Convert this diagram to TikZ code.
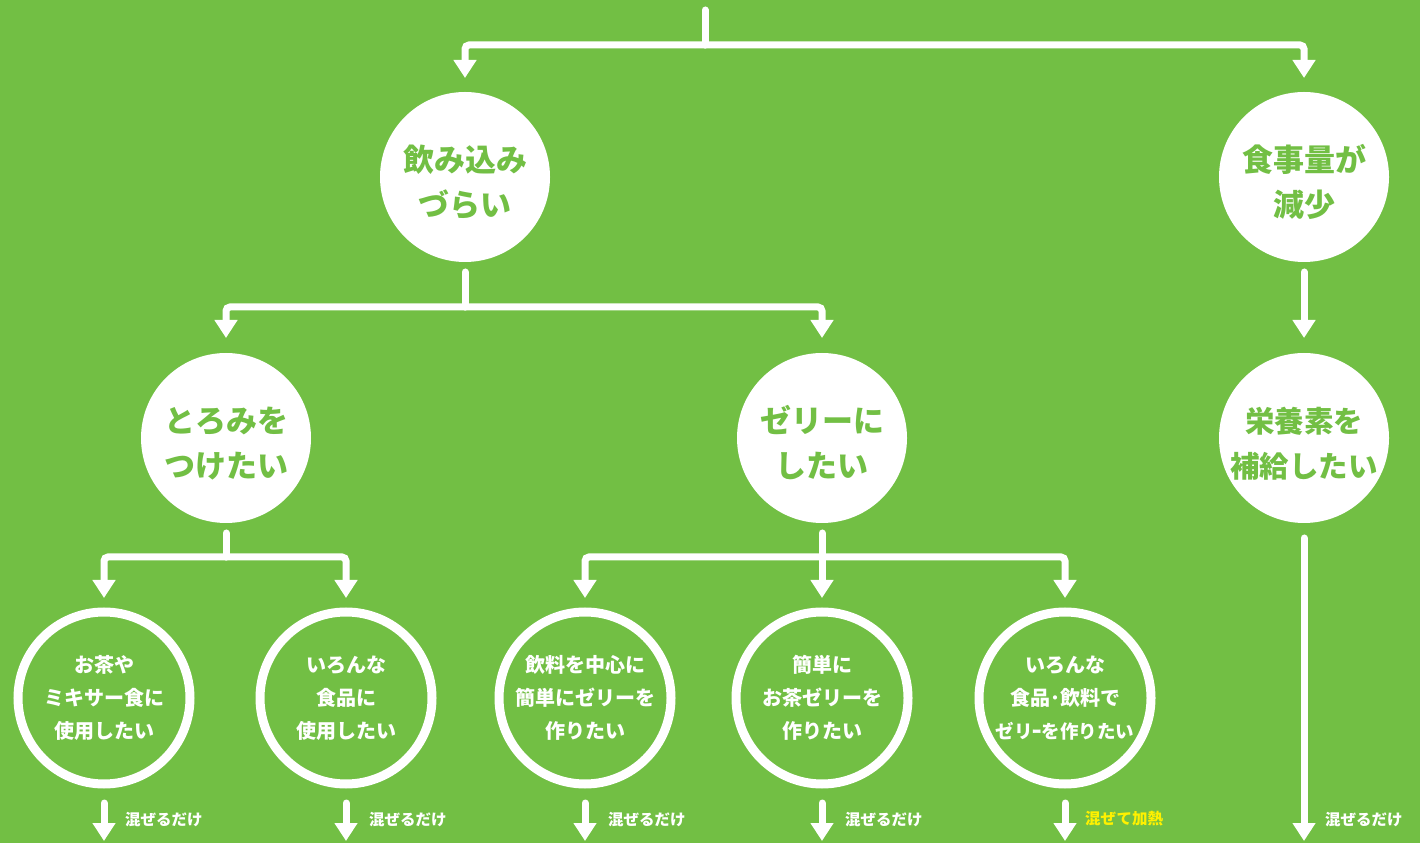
\documentclass[tikz,border=0pt]{standalone}
\usepackage{fontspec}
\setmainfont{Noto Sans CJK JP}
\usetikzlibrary{arrows.meta,calc}
\definecolor{bg}{HTML}{72BF44}
\definecolor{hl}{HTML}{FFF100}
\newcommand\bst{\rule{0pt}{37pt}}
\begin{document}
\begin{tikzpicture}[x=1pt,y=1pt,
  big/.style={circle, fill=white, minimum size=170pt, inner sep=-20pt, outer sep=0pt,
    text=bg, align=center, font=\bfseries\fontsize{31}{45}\selectfont},
  ring/.style={circle, draw=white, line width=9pt, minimum size=172pt, inner sep=0pt,
    text=white, align=center, font=\bfseries\fontsize{20}{33}\selectfont},
  lab/.style={anchor=west, inner sep=0pt, text=white, font=\bfseries\fontsize{15.5}{15.5}\selectfont},
  wline/.style={draw=white, line width=7pt, line cap=round},
  conn/.style={wline, rounded corners=4pt, -{Triangle[width=22pt,length=18pt]}}]
\fill[bg] (0,0) rectangle (1420,843);
\useasboundingbox (0,0) rectangle (1420,843);

% top level
\coordinate (top) at (705,833);
\node[big] (n1) at (465,666) {\bst 飲み込み\\づらい};
\node[big] (n2) at (1304,666) {\bst 食事量が\\減少};

% second level
\node[big] (a) at (226,405) {\bst とろみを\\つけたい};
\node[big] (b) at (822,405) {\bst ゼリーに\\したい};
\node[big, font=\bfseries\fontsize{29.5}{45}\selectfont] (c) at (1304,405) {\bst 栄養素を\\補給したい};

% third level
\node[ring] (r1) at (104,145) {お茶や\\ミキサー食に\\使用したい};
\node[ring] (r2) at (346,145) {いろんな\\食品に\\使用したい};
\node[ring] (r3) at (585,145) {飲料を中心に\\簡単にゼリーを\\作りたい};
\node[ring] (r4) at (822,145) {簡単に\\お茶ゼリーを\\作りたい};
\node[ring] (r5) at (1065,145) {いろんな\\食品･飲料で\\{\fontsize{18.5}{33}\selectfont ゼリｰを作りたい}};

% connectors top
\draw[wline] (top) -- ++(0,-35) coordinate (j0);
\draw[conn] (j0) -| ([yshift=14pt]n1.north);
\draw[conn] (j0) -| ([yshift=14pt]n2.north);

% from n1
\draw[wline] ([yshift=-10pt]n1.south) -- ++(0,-35) coordinate (j1);
\draw[conn] (j1) -| ([yshift=15pt]a.north);
\draw[conn] (j1) -| ([yshift=15pt]b.north);

% from n2
\draw[conn] ([yshift=-10pt]n2.south) -- ([yshift=15pt]c.north);

% from a
\draw[wline] ([yshift=-10pt]a.south) -- ++(0,-24) coordinate (j2);
\draw[conn] (j2) -| ([yshift=9.5pt]r1.north);
\draw[conn] (j2) -| ([yshift=9.5pt]r2.north);

% from b
\draw[conn] ([yshift=-10pt]b.south) -- ([yshift=9.5pt]r4.north);
\coordinate (j3) at ($(b.south)+(0,-34)$);
\draw[conn] (j3) -| ([yshift=9.5pt]r3.north);
\draw[conn] (j3) -| ([yshift=9.5pt]r5.north);

% bottom arrows
\foreach \n in {r1,r2,r3,r4,r5}{
  \draw[conn] ([yshift=-14.5pt]\n.south) -- ++(0,-38) coordinate (e\n);
}
\draw[conn] ([yshift=-15pt]c.south) -- ++(0,-303) coordinate (ec);

% labels
\node[lab] (l1) at ($(er1)+(21,21)$) {混ぜるだけ};
\node[lab] (l2) at ($(er2)+(23,21)$) {混ぜるだけ};
\node[lab] (l3) at ($(er3)+(23,21)$) {混ぜるだけ};
\node[lab] (l4) at ($(er4)+(23,21)$) {混ぜるだけ};
\node[lab, text=hl] (l5) at ($(er5)+(20,22)$) {混ぜて加熱};
\node[lab] (l6) at ($(ec)+(21,21)$) {混ぜるだけ};
\end{tikzpicture}
\end{document}
